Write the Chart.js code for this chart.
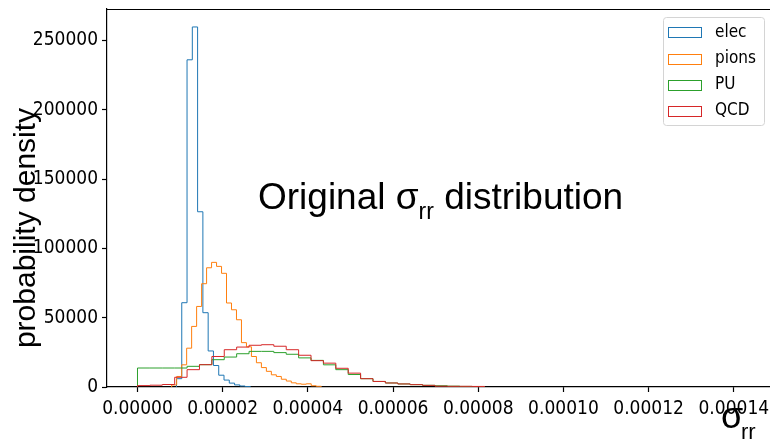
<!DOCTYPE html>
<html lang="en">
<head>
<meta charset="UTF-8">
<title>Original sigma_rr distribution</title>
<style>
  body { margin: 0; background: #fff; }
  .wrap { width: 770px; height: 440px; position: relative; }
</style>
<script src="https://cdn.jsdelivr.net/npm/chart.js"></script>
</head>
<body>
<div class="wrap"><canvas id="histChart"></canvas></div>
<script>
// histogram bins: first edge + bin width for each sample, density per bin
const elecStart = 0.00000915, elecWidth = 0.00000124;
const elecDensity = [6000, 60800, 236000, 259700, 126400, 53600, 26000, 15500, 8500, 5000, 2800, 1500, 700, 300];

const pionsStart = 0.00000803, pionsWidth = 0.00000117;
const pionsDensity = [1500, 7600, 16000, 28000, 43700, 58100, 74500, 86000, 89900, 87000,
  82000, 60600, 55700, 48500, 32000, 29000, 22000, 17500, 14000, 11300,
  8800, 7600, 5600, 4300, 3000, 2300, 2000, 2300, 900, 500];

const puStart = 0, puWidth = 0.00000291;
const puDensity = [13700, 13700, 13700, 13700, 14900, 16100, 19700, 21600, 24000, 25700,
  25700, 24800, 23600, 21000, 19200, 16000, 12500, 9000, 6000, 4000,
  2900, 2200, 1700, 1200, 900, 600, 400, 200];

const qcdStart = 0, qcdWidth = 0.00000291;
const qcdDensity = [1000, 1300, 1800, 7000, 12500, 16100, 22000, 26900, 28800, 30100,
  30500, 29400, 26900, 22900, 19000, 17200, 13500, 10000, 6000, 4000,
  2900, 2200, 1700, 1200, 600, 500, 500, 400];

const seriesNames = ['elec', 'pions', 'PU', 'QCD'];
const xTicks = [0, 0.00002, 0.00004, 0.00006, 0.00008, 0.00010, 0.00012, 0.00014];
const yTicks = [0, 50000, 100000, 150000, 200000, 250000];

const colors = ['#1f77b4', '#ff7f0e', '#2ca02c', '#d62728'];
const tickFont = { family: '"DejaVu Sans Condensed", "DejaVu Sans", sans-serif', size: 19 };

// outline of a step histogram: up at the first edge, across each bin, down at the last edge
function stepPoints(start, width, dens) {
    const pts = [{ x: start, y: 0 }];
    dens.forEach((d, i) => pts.push({ x: start + i * width, y: d }));
    pts.push({ x: start + dens.length * width, y: 0 });
    return pts;
}

const allSeries = [
    stepPoints(elecStart, elecWidth, elecDensity),
    stepPoints(pionsStart, pionsWidth, pionsDensity),
    stepPoints(puStart, puWidth, puDensity),
    stepPoints(qcdStart, qcdWidth, qcdDensity)
];

const datasets = allSeries.map((pts, i) => ({
    label: seriesNames[i],
    data: pts,
    borderColor: colors[i],
    borderWidth: 1,
    stepped: 'before',
    pointRadius: 0,
    fill: false,
    order: 4 - i
}));

// top spine (right one is cut off in the original)
const topFrame = {
    id: 'topFrame',
    afterDraw(chart) {
        const { ctx, chartArea } = chart;
        ctx.save();
        ctx.strokeStyle = '#000';
        ctx.lineWidth = 1.2;
        ctx.beginPath();
        ctx.moveTo(chartArea.left, chartArea.top + 0.5);
        ctx.lineTo(chartArea.right, chartArea.top + 0.5);
        ctx.stroke();
        ctx.restore();
    }
};

const boxLegend = {
    id: 'boxLegend',
    afterDraw(chart) {
        const ctx = chart.ctx;
        ctx.save();
        ctx.fillStyle = 'rgba(255,255,255,0.8)';
        ctx.strokeStyle = '#d4d4d4';
        ctx.lineWidth = 1;
        ctx.beginPath();
        ctx.roundRect(663.5, 17.5, 101, 108, 3);
        ctx.fill();
        ctx.stroke();
        ctx.font = '17px "DejaVu Sans Condensed", "DejaVu Sans", sans-serif';
        ctx.textBaseline = 'middle';
        chart.data.datasets.forEach((ds, i) => {
            const cy = 32.3 + i * 26.2;
            ctx.strokeStyle = ds.borderColor;
            ctx.lineWidth = 1;
            ctx.strokeRect(668.5, Math.round(cy - 5) + 0.5, 33, 10);
            ctx.fillStyle = '#000';
            ctx.fillText(ds.label, 715, cy);
        });
        ctx.restore();
    }
};

const extraText = {
    id: 'extraText',
    afterDraw(chart) {
        const ctx = chart.ctx;
        ctx.save();
        ctx.fillStyle = '#000';
        // y axis title
        ctx.translate(27, 228);
        ctx.rotate(-Math.PI / 2);
        ctx.font = '30px "Liberation Sans", Arial, sans-serif';
        ctx.textAlign = 'center';
        ctx.textBaseline = 'middle';
        ctx.fillText('probability density', 0, 0);
        ctx.restore();

        ctx.save();
        ctx.fillStyle = '#000';
        ctx.textBaseline = 'alphabetic';
        // annotation inside the plot
        ctx.font = '37px "Liberation Sans", Arial, sans-serif';
        let x = 258;
        ctx.fillText('Original σ', x, 209);
        x += ctx.measureText('Original σ').width;
        ctx.font = '23px "Liberation Sans", Arial, sans-serif';
        ctx.fillText('rr', x, 219);
        x += ctx.measureText('rr').width;
        ctx.font = '37px "Liberation Sans", Arial, sans-serif';
        ctx.fillText(' distribution', x, 209);

        // x axis title
        ctx.font = '36px "Liberation Sans", Arial, sans-serif';
        ctx.fillText('σ', 721, 428);
        ctx.font = '22px "Liberation Sans", Arial, sans-serif';
        ctx.fillText('rr', 741, 439);
        ctx.restore();
    }
};

new Chart(document.getElementById('histChart'), {
    type: 'line',
    data: { datasets },
    options: {
        responsive: true,
        maintainAspectRatio: false,
        animation: false,
        layout: { padding: { top: 9, right: 0, left: 0, bottom: 0 } },
        scales: {
            x: {
                type: 'linear',
                min: -0.00000716,
                max: 0.0001485,
                afterBuildTicks: s => { s.ticks = xTicks.map(v => ({ value: v })); },
                afterFit: s => {
                    s.height = 53;
                    s.paddingLeft = 0;
                    s.paddingRight = 0;
                },
                grid: { drawOnChartArea: false, color: '#000', tickLength: 5, tickWidth: 1.2 },
                border: { color: '#000', width: 1.2 },
                ticks: {
                    color: '#000',
                    font: tickFont,
                    padding: 6,
                    maxRotation: 0,
                    callback: v => v.toFixed(5)
                }
            },
            y: {
                min: 0,
                max: 272650,
                afterBuildTicks: s => { s.ticks = yTicks.map(v => ({ value: v })); },
                afterFit: s => {
                    s.width = 107;
                    s.paddingTop = 0;
                    s.paddingBottom = 0;
                },
                grid: { drawOnChartArea: false, color: '#000', tickLength: 5, tickWidth: 1.2 },
                border: { color: '#000', width: 1.2 },
                ticks: {
                    color: '#000',
                    font: tickFont,
                    padding: 4,
                    callback: v => String(v)
                }
            }
        },
        plugins: {
            legend: { display: false },
            tooltip: { enabled: false }
        }
    },
    plugins: [topFrame, boxLegend, extraText]
});
</script>
</body>
</html>
